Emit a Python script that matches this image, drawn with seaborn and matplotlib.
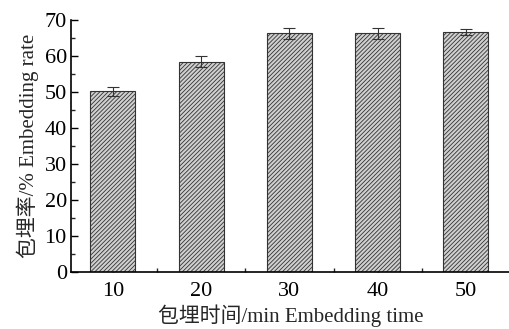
import pandas as pd
import matplotlib
matplotlib.use("Agg")
import matplotlib.pyplot as plt
from matplotlib.ticker import MultipleLocator
import seaborn as sns

# Embedding time (min) vs embedding rate (%)
times = ["10", "20", "30", "40", "50"]
rates = [50.2, 58.4, 66.3, 66.3, 66.7]
errors = [1.3, 1.5, 1.6, 1.5, 0.9]

sns.set_style("ticks")
plt.rcParams["font.family"] = ["Liberation Serif", "Noto Sans CJK SC"]
plt.rcParams["hatch.linewidth"] = 0.6

df = pd.DataFrame({"time": times, "rate": rates})

fig = plt.figure(figsize=(5.1, 3.29), dpi=100)
ax = fig.add_axes([71 / 510, 57 / 329, 1 - 71 / 510, 252 / 329])

sns.barplot(x="time", y="rate", data=df, ax=ax, width=0.51,
            color="#d0d0d0", edgecolor="#333333", linewidth=0.8,
            hatch="////////", errorbar=None)
ax.errorbar(range(len(times)), rates, yerr=errors, fmt="none",
            ecolor="#333333", elinewidth=0.8, capsize=4, capthick=0.8)

ax.set_ylim(0, 70)
ax.set_xlim(-0.475, 4.5)
ax.yaxis.set_major_locator(MultipleLocator(10))
ax.yaxis.set_minor_locator(MultipleLocator(5))
ax.xaxis.set_minor_locator(MultipleLocator(0.5))
ax.tick_params(axis="both", which="major", direction="in", length=5,
               width=1, labelsize=16, colors="black")
ax.tick_params(axis="both", which="minor", direction="in", length=3, width=1)
ax.tick_params(axis="x", which="major", pad=7)
ax.tick_params(axis="y", which="major", pad=3)

for s in ["top", "right"]:
    ax.spines[s].set_visible(False)
for s in ["left", "bottom"]:
    ax.spines[s].set_linewidth(1.2)
    ax.spines[s].set_color("black")

ax.set_xlabel("包埋时间/min Embedding time", fontsize=15, labelpad=3)
ax.set_ylabel("包埋率/% Embedding rate", fontsize=15, labelpad=4)

fig.savefig("out.png", dpi=100)
